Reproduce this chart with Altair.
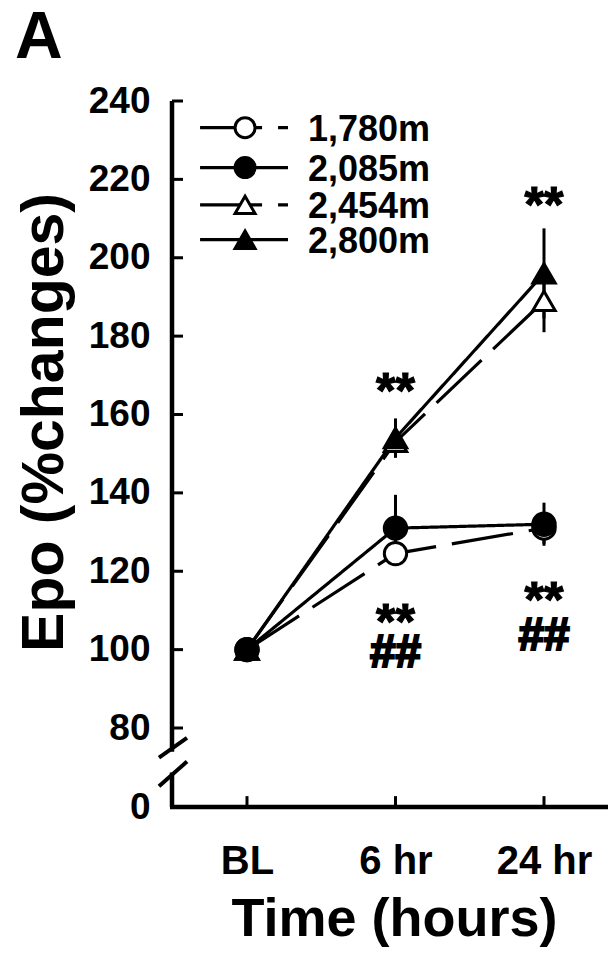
import altair as alt
import pandas as pd

# ---------------- data ----------------
times = ["BL", "6 hr", "24 hr"]
time_pos = [0, 1, 2]
series = ["1,780m", "2,085m", "2,454m", "2,800m"]
mean_1780 = [100, 124.5, 131]
sem_1780 = [0, 3, 4]
mean_2085 = [100, 131, 132]
sem_2085 = [0, 8.5, 5.5]
mean_2454 = [100, 153, 189]
sem_2454 = [0, 4, 8]
mean_2800 = [100, 154, 196]
sem_2800 = [0, 5, 11.5]
draw_order = ["2,454m", "2,800m", "1,780m", "2,085m"]

marker_shapes = ["circle", "circle", "triangle-up", "triangle-up"]
marker_fills = ["white", "black", "white", "black"]
line_dashes = [[62, 16], [1, 0], [62, 16], [1, 0]]

y_ticks = [0, 80, 100, 120, 140, 160, 180, 200, 220, 240]
y_inward_ticks = [80, 100, 120, 140, 160, 180, 200, 220, 240]

star_time = [1, 2, 1, 2]
star_y = [169, 216.6, 110.2, 115.8]
hash_time = [1, 2]
hash_y = [100, 104.3]

legend_y = [233.2, 223.0, 213.5, 204.6]

# axis break (data units of y)
axis_seg_top = [240, 0]
axis_seg_bot = [56, 35]
break_y1 = [50, 21]
break_y2 = [70, 46]

# ---------------- build tables ----------------
means = {"1,780m": mean_1780, "2,085m": mean_2085, "2,454m": mean_2454, "2,800m": mean_2800}
sems = {"1,780m": sem_1780, "2,085m": sem_2085, "2,454m": sem_2454, "2,800m": sem_2800}
rows = []
for order, s in enumerate(draw_order):
    for t, m, e in zip(time_pos, means[s], sems[s]):
        rows.append({"series": s, "t": t, "mean": m, "lo": m - e, "hi": m + e, "ord": order})
df = pd.DataFrame(rows)

W, H = 436, 706
FONT = "Liberation Sans"

xscale = alt.Scale(domain=[-0.505, 2.431], nice=False, zero=False)
yscale = alt.Scale(domain=[0, 80, 240], range=[H, 627, 0], nice=False, zero=False)

xax = alt.Axis(values=time_pos, labelExpr=f"{times}[datum.value]", domain=False, ticks=False,
               tickSize=0, grid=False, labelFont=FONT, labelFontSize=40, labelFontWeight="bold",
               labelColor="black", labelPadding=34, labelBaseline="top",
               title="Time (hours)", titleFont=FONT, titleFontSize=54, titleFontWeight="bold",
               titleColor="black", titleX=222, titleY=128, titleBaseline="alphabetic",
               titleAlign="center")
yax = alt.Axis(values=y_ticks, domain=False, ticks=False, tickSize=0, grid=False,
               labelFont=FONT, labelFontSize=37, labelFontWeight="bold", labelColor="black",
               labelPadding=22, labelFlush=False, labelOverlap=False,
               title="Epo (%changes)", titleFont=FONT, titleFontSize=59, titleFontWeight="bold",
               titleColor="black", titleX=-128, titleY=321, titleAngle=270,
               titleBaseline="middle", titleAlign="center")


def X(f):
    return alt.X(f, type="quantitative", scale=xscale, axis=xax)


def Y(f):
    return alt.Y(f, type="quantitative", scale=yscale, axis=yax)


dash_enc = alt.StrokeDash("series:N", scale=alt.Scale(domain=series, range=line_dashes), legend=None)
shape_enc = alt.Shape("series:N", scale=alt.Scale(domain=series, range=marker_shapes), legend=None)
fill_enc = alt.Fill("series:N", scale=alt.Scale(domain=series, range=marker_fills), legend=None)

base = alt.Chart(df)

lines = base.mark_line(color="black", strokeWidth=3.2).encode(
    x=X("t"), y=Y("mean"), detail="series:N", strokeDash=dash_enc, order="t:Q")

errs = base.mark_rule(color="black", strokeWidth=3).encode(
    x=X("t"), y=Y("lo"), y2="hi")

points = base.mark_point(filled=True, stroke="black", strokeWidth=3, size=500, opacity=1).encode(
    x=X("t"), y=Y("mean"), shape=shape_enc, fill=fill_enc)

# axes drawn by hand (inward ticks and break)
axis_df = pd.DataFrame({"a": axis_seg_top, "b": axis_seg_bot})
yline = alt.Chart(axis_df).mark_rule(color="black", strokeWidth=4.5).encode(
    x=alt.value(0), y=Y("a"), y2="b")

ytick_df = pd.DataFrame({"v": y_inward_ticks})
yticks = alt.Chart(ytick_df).mark_rule(color="black", strokeWidth=3).encode(
    x=alt.value(0), x2=alt.value(11), y=Y("v"))

brk_df = pd.DataFrame({"a": break_y1, "b": break_y2})
brk = alt.Chart(brk_df).mark_rule(color="black", strokeWidth=4).encode(
    x=alt.value(-13), x2=alt.value(15), y=Y("a"), y2="b")

xline_df = pd.DataFrame({"y0": [0]})
xline = alt.Chart(xline_df).mark_rule(color="black", strokeWidth=4.5).encode(
    x=alt.value(-2), x2=alt.value(W), y=Y("y0"))

xtick_df = pd.DataFrame({"t": time_pos, "a": [0] * 3, "b": [11] * 3})
xticks = alt.Chart(xtick_df).mark_rule(color="black", strokeWidth=3).encode(
    x=X("t"), y=Y("a"), y2="b")

# significance marks
star_df = pd.DataFrame({"t": star_time, "y": star_y, "txt": ["**"] * len(star_time)})
stars = alt.Chart(star_df).mark_text(font=FONT, fontSize=50, fontWeight="bold", color="black",
                                     stroke="black", strokeWidth=1.2,
                                     baseline="alphabetic", dy=29).encode(
    x=X("t"), y=Y("y"), text="txt")
hash_df = pd.DataFrame({"t": hash_time, "y": hash_y, "txt": ["##"] * len(hash_time)})
hashes = alt.Chart(hash_df).mark_text(font=FONT, fontSize=46, fontWeight="bold", color="black",
                                      stroke="black", strokeWidth=2.2,
                                      baseline="alphabetic", dy=17).encode(
    x=X("t"), y=Y("y"), text="txt")

# legend
leg_df = pd.DataFrame({"series": series, "y": legend_y,
                       "x1": [-0.316] * 4, "x2": [0.276] * 4, "xm": [-0.013] * 4, "xt": [0.41] * 4})
leg_lines = alt.Chart(leg_df).mark_rule(color="black", strokeWidth=3.2).encode(
    x=X("x1"), x2="x2", y=Y("y"), strokeDash=dash_enc)
leg_pts = alt.Chart(leg_df).mark_point(filled=True, stroke="black", strokeWidth=3, size=400, opacity=1).encode(
    x=X("xm"), y=Y("y"), shape=shape_enc, fill=fill_enc)
leg_txt = alt.Chart(leg_df).mark_text(font=FONT, fontSize=36, fontWeight="bold", color="black",
                                      align="left", baseline="middle", dy=2).encode(
    x=X("xt"), y=Y("y"), text="series:N")

panel_df = pd.DataFrame({"label": ["A"]})
panel = alt.Chart(panel_df).mark_text(font=FONT, fontSize=66, fontWeight="bold", color="black",
                                      align="left", baseline="alphabetic").encode(
    x=alt.value(-157), y=alt.value(-43), text="label")

chart = alt.layer(
    lines, errs, points, yline, yticks, brk, xline, xticks, stars, hashes,
    leg_lines, leg_pts, leg_txt, panel
).properties(
    width=W, height=H,
    autosize=alt.AutoSizeParams(type="none"),
    padding={"left": 164, "top": 93, "right": 0, "bottom": 140},
    background="white",
).configure_view(stroke=None)

chart.save("out.html", embed_options={"renderer": "svg", "actions": False})
